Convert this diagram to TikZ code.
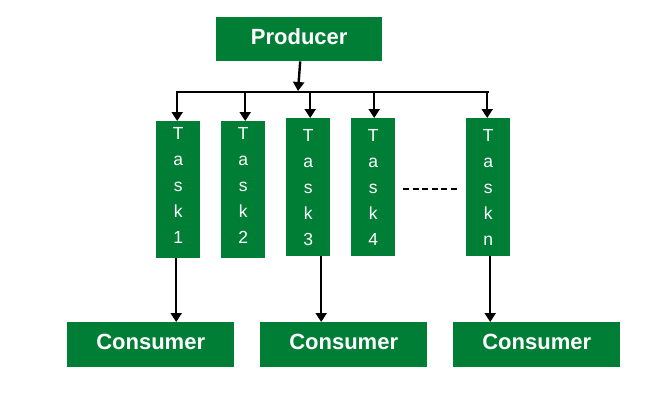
\documentclass[tikz,border=0pt]{standalone}
\usepackage{fontspec}
\setmainfont{Liberation Sans}
\usetikzlibrary{arrows.meta}
\definecolor{pgreen}{HTML}{007E36}
\begin{document}
\begin{tikzpicture}[x=1pt,y=-1pt,
  gbox/.style={fill=pgreen,inner sep=0pt,text=white,anchor=north west},
  big/.style={gbox,font=\fontsize{22}{26}\selectfont\bfseries,minimum width=167pt,minimum height=45pt,text height=16pt,text depth=6pt},
  task/.style={gbox,minimum width=44pt,font=\fontsize{17.5}{26}\selectfont,align=center},
  wire/.style={line width=2.4pt,black},
  arr/.style={wire,-{Triangle[width=11pt,length=9pt]}},
  arrb/.style={line width=2.1pt,black,-{Triangle[width=11pt,length=9pt]}},
]
\useasboundingbox (0,0) rectangle (650,410);
\node[big,minimum width=166pt,minimum height=44pt] (prod) at (216,17) {Producer};
\node[task,minimum height=137pt] (t1) at (156,121) {T\\a\\s\\k\\1\rule[-8pt]{0pt}{8pt}};
\node[task,minimum height=137pt] (t2) at (221,121) {T\\a\\s\\k\\2\rule[-8pt]{0pt}{8pt}};
\node[task,minimum height=138pt] (t3) at (286,118) {T\\a\\s\\k\\3};
\node[task,minimum height=138pt] (t4) at (351,118) {T\\a\\s\\k\\4};
\node[task,minimum height=138pt] (tn) at (466,118) {T\\a\\s\\k\\n};
\node[big] (c1) at (67,322) {Consumer};
\node[big] (c2) at (260,322) {Consumer};
\node[big] (c3) at (453,322) {Consumer};
\coordinate (jn) at (298,92);
% producer to bus
\draw[arr] ([xshift=1pt]prod.south) -- ([yshift=1pt]jn);
\draw[wire,line cap=rect] ([xshift=-1pt]t1.north |- jn) -- (tn.north |- jn);
\draw[arr] ([xshift=-1pt]t1.north |- jn) -- ([xshift=-1pt]t1.north);
\draw[arr] ([xshift=2pt]t2.north |- jn) -- ([xshift=2pt]t2.north);
\draw[arr] ([xshift=2pt]t3.north |- jn) -- ([xshift=2pt]t3.north);
\draw[arr] ([xshift=1pt]t4.north |- jn) -- ([xshift=1pt]t4.north);
\draw[arr] ([xshift=-1pt]tn.north |- jn) -- ([xshift=-1pt]tn.north);
% tasks to consumers
\draw[arrb] ([xshift=-2pt]t1.south) -- ([xshift=-2pt]t1.south |- c1.north);
\draw[arrb] ([xshift=13pt]t3.south) -- ([xshift=13pt]t3.south |- c2.north);
\draw[arrb] ([xshift=2pt]tn.south) -- ([xshift=2pt]tn.south |- c3.north);
% dashed
\draw[wire,dash pattern=on 6pt off 3.5pt] ([xshift=8pt,yshift=-2pt]t4.east) -- ([xshift=-6pt,yshift=-2pt]tn.west);
\end{tikzpicture}
\end{document}
